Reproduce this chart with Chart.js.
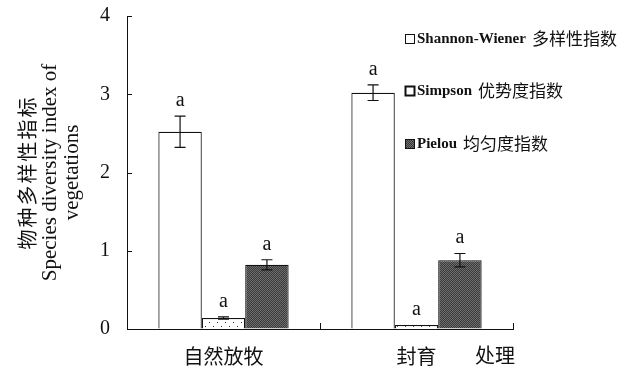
<!DOCTYPE html>
<html>
<head>
<meta charset="utf-8">
<script src="https://cdn.jsdelivr.net/npm/chart.js@4.4.1/dist/chart.umd.min.js"></script>
<style>
  html, body { margin: 0; padding: 0; background: #fff; }
  #wrap { width: 630px; height: 368px; }
</style>
</head>
<body>
<div id="wrap"><canvas id="chart" width="630" height="368"></canvas></div>
<script>
// values
const categories = ['自然放牧', '封育'];
const seriesNames = ['Shannon-Wiener 多样性指数', 'Simpson 优势度指数', 'Pielou 均匀度指数'];
const shannon = [2.52, 3.02];
const simpson = [0.14, 0.05];
const pielou = [0.82, 0.88];
const shannonErr = [0.2, 0.1];
const simpsonErr = [0.015, 0];
const pielouErr = [0.065, 0.085];
const letters = [['a', 'a'], ['a', 'a'], ['a', 'a']];
const yTicks = [0, 1, 2, 3, 4];
const xTitle = '处理';
const yTitle = ['物种多样性指标', 'Species diversity index of', 'vegetations'];

const SERIF = '"Liberation Serif", "Times New Roman", serif';
const CJK = '"Noto Sans CJK SC", sans-serif';

// fill textures
function makePattern(size, draw) {
    const c = document.createElement('canvas');
    c.width = size; c.height = size;
    const g = c.getContext('2d');
    draw(g);
    return g.createPattern(c, 'repeat');
}
const dotted = makePattern(8, g => {
    g.fillStyle = '#fff'; g.fillRect(0, 0, 8, 8);
    g.fillStyle = '#333'; g.fillRect(1, 2, 1, 1); g.fillRect(5, 6, 1, 1);
});
const dark = makePattern(2, g => {
    g.fillStyle = '#3a3a3a'; g.fillRect(0, 0, 2, 2);
    g.fillStyle = '#6e6e6e'; g.fillRect(0, 0, 1, 1); g.fillRect(1, 1, 1, 1);
});

const errors = [shannonErr, simpsonErr, pielouErr];
const values = [shannon, simpson, pielou];
const fills = ['#ffffff', dotted, dark];
const legendFills = ['#ffffff', '#ffffff', dark];

const extras = {
    id: 'extras',
    afterDatasetsDraw(chart) {
        const ctx = chart.ctx;
        const y = chart.scales.y;
        const x = chart.scales.x;
        const area = chart.chartArea;
        ctx.save();
        ctx.strokeStyle = '#111';
        ctx.lineWidth = 1.2;
        // error bars and letters
        values.forEach((vals, i) => {
            const meta = chart.getDatasetMeta(i);
            meta.data.forEach((bar, j) => {
                const v = vals[j], e = errors[i][j];
                const top = y.getPixelForValue(v + e);
                const bot = y.getPixelForValue(v - e);
                if (e > 0) {
                    ctx.beginPath();
                    ctx.moveTo(bar.x, top); ctx.lineTo(bar.x, bot);
                    ctx.moveTo(bar.x - 5.5, top); ctx.lineTo(bar.x + 5.5, top);
                    ctx.moveTo(bar.x - 5.5, bot); ctx.lineTo(bar.x + 5.5, bot);
                    ctx.stroke();
                }
                ctx.fillStyle = '#111';
                ctx.font = '20px ' + SERIF;
                ctx.textAlign = 'center';
                ctx.textBaseline = 'alphabetic';
                ctx.fillText(letters[i][j], bar.x, top - 10);
            });
        });
        // inner ticks
        ctx.lineWidth = 1;
        ctx.beginPath();
        yTicks.forEach(t => {
            const py = Math.round(y.getPixelForValue(t)) + 0.5;
            ctx.moveTo(area.left, py); ctx.lineTo(area.left + 5, py);
        });
        [0.5, 1.5].forEach(k => {
            const px = Math.round(x.getPixelForValue(k)) + 0.5;
            ctx.moveTo(px, area.bottom); ctx.lineTo(px, area.bottom - 6);
        });
        ctx.stroke();
        ctx.restore();
    },
    afterDraw(chart) {
        const ctx = chart.ctx;
        const area = chart.chartArea;
        ctx.save();
        ctx.fillStyle = '#111';
        // y title, rotated
        const cy = (area.top + area.bottom) / 2;
        const lineX = [27, 51, 73];
        yTitle.forEach((t, i) => {
            ctx.save();
            ctx.translate(lineX[i], cy);
            ctx.rotate(-Math.PI / 2);
            ctx.textAlign = 'center';
            ctx.textBaseline = 'middle';
            if (i === 0) {
                ctx.font = '20px ' + CJK;
                ctx.letterSpacing = '2px';
            } else {
                ctx.font = '20px ' + SERIF;
                ctx.scale(1.05, 1);
            }
            ctx.fillText(t, 0, 0);
            ctx.restore();
        });
        // x title next to the second category
        ctx.font = '20px ' + CJK;
        ctx.textAlign = 'center';
        ctx.textBaseline = 'middle';
        ctx.fillText(xTitle, 495, 355);
        // legend
        const rowY = [39, 91, 144];
        chart.data.datasets.forEach((ds, i) => {
            const yy = rowY[i];
            ctx.fillStyle = legendFills[i];
            ctx.fillRect(405, yy - 5, 10, 10);
            ctx.strokeStyle = '#111';
            ctx.lineWidth = i === 1 ? 2 : 1;
            ctx.strokeRect(405.5, yy - 4.5, 9, 9);
            const parts = ds.label.split(' ');
            ctx.fillStyle = '#111';
            ctx.textAlign = 'left';
            ctx.textBaseline = 'middle';
            ctx.font = 'bold 15px ' + SERIF;
            ctx.fillText(parts[0], 417, yy);
            const w = ctx.measureText(parts[0]).width;
            ctx.font = '17px ' + CJK;
            ctx.fillText(parts[1], 417 + w + 6, yy);
        });
        ctx.restore();
    }
};

new Chart(document.getElementById('chart'), {
    type: 'bar',
    data: {
        labels: categories,
        datasets: seriesNames.map((name, i) => ({
            label: name,
            data: values[i],
            backgroundColor: fills[i],
            borderColor: '#111',
            borderWidth: 1.2,
            categoryPercentage: 0.675,
            barPercentage: 1
        }))
    },
    options: {
        responsive: false,
        animation: false,
        layout: { padding: { left: 0, top: 16, right: 117, bottom: 0 } },
        plugins: { legend: { display: false }, tooltip: { enabled: false } },
        scales: {
            x: {
                afterFit: s => { s.height = 39; },
                grid: { display: false, drawTicks: false },
                border: { color: '#111', width: 1 },
                ticks: { color: '#111', padding: 15, font: { family: CJK, size: 20 } }
            },
            y: {
                min: 0,
                max: 4,
                afterFit: s => { s.width = 127; },
                afterBuildTicks: s => { s.ticks = yTicks.map(v => ({ value: v })); },
                grid: { drawOnChartArea: false, drawTicks: true, tickLength: 17, tickColor: 'rgba(0,0,0,0)' },
                border: { color: '#111', width: 1 },
                ticks: { color: '#111', padding: 0, font: { family: SERIF, size: 20 } }
            }
        }
    },
    plugins: [extras]
});
</script>
</body>
</html>
